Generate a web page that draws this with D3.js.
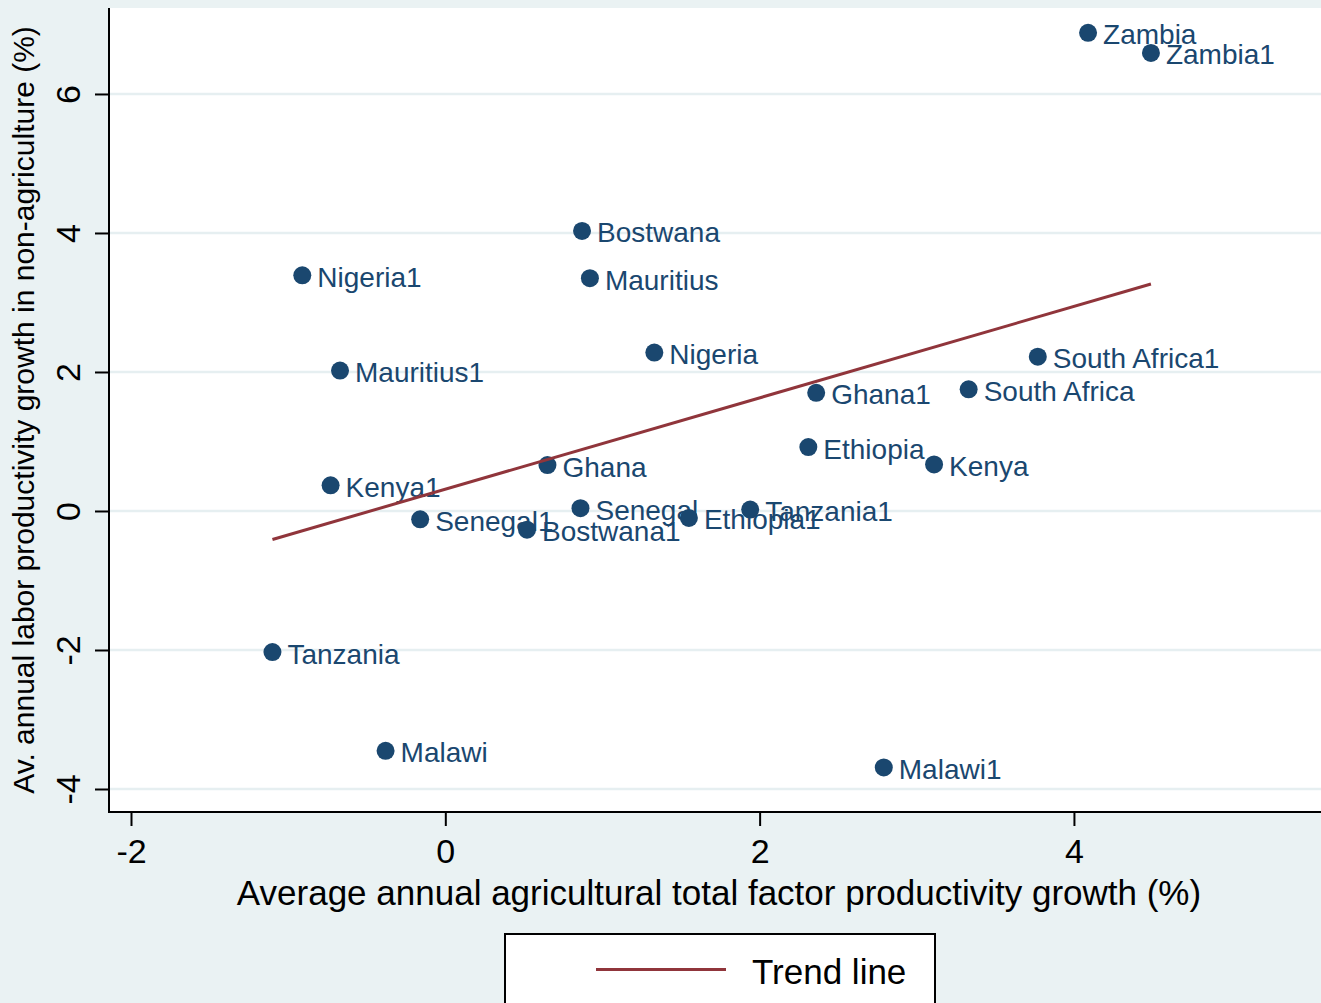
<!DOCTYPE html>
<html>
<head>
<meta charset="utf-8">
<script src="https://cdn.jsdelivr.net/npm/d3@7/dist/d3.min.js"></script>
<style>
  html, body { margin: 0; padding: 0; background: #eaf2f3; }
  svg { display: block; }
  text { font-family: "Liberation Sans", Arial, Helvetica, sans-serif; }
</style>
</head>
<body>
<svg id="chart" width="1321" height="1003"></svg>
<script>
// Country-period observations: agricultural TFP growth vs non-agricultural labour productivity growth
const countries = [
  "Zambia", "Zambia1", "Bostwana", "Mauritius", "Nigeria1", "Mauritius1",
  "Nigeria", "South Africa1", "South Africa", "Ghana1", "Ethiopia", "Kenya",
  "Ghana", "Kenya1", "Senegal", "Tanzania1", "Ethiopia1", "Senegal1",
  "Bostwana1", "Tanzania", "Malawi", "Malawi1"
];
const agTfpGrowth = [
  4.09, 4.49, 0.87, 0.92, -0.91, -0.67,
  1.33, 3.77, 3.33, 2.36, 2.31, 3.11,
  0.65, -0.73, 0.86, 1.94, 1.55, -0.16,
  0.52, -1.10, -0.38, 2.79
];
const nonAgLabGrowth = [
  6.88, 6.59, 4.03, 3.35, 3.39, 2.02,
  2.28, 2.22, 1.75, 1.70, 0.92, 0.67,
  0.66, 0.37, 0.04, 0.02, -0.10, -0.12,
  -0.27, -2.03, -3.45, -3.69
];
const xTicks = [-2, 0, 2, 4];
const yTicks = [-4, -2, 0, 2, 4, 6];
const xTitle = "Average annual agricultural total factor productivity growth (%)";
const yTitle = "Av. annual labor productivity growth in non-agriculture (%)";
const legendLabel = "Trend line";

const data = countries.map((c, i) => ({ name: c, x: agTfpGrowth[i], y: nonAgLabGrowth[i] }));

// Ordinary least squares fit for the trend line
const mx = d3.mean(data, d => d.x), my = d3.mean(data, d => d.y);
const sxy = d3.sum(data, d => (d.x - mx) * (d.y - my));
const sxx = d3.sum(data, d => (d.x - mx) ** 2);
const slope = sxy / sxx, intercept = my - slope * mx;
const [xMin, xMax] = d3.extent(data, d => d.x);
const fit = [xMin, xMax].map(v => ({ x: v, y: intercept + slope * v }));

const plot = { left: 109, right: 1329, top: 8, bottom: 812 };
const navy = "#1a476f", maroon = "#90353b", bg = "#eaf2f3";

const x = d3.scaleLinear().domain([-2.14, 5.623]).range([plot.left, plot.right]);
const y = d3.scaleLinear().domain([-4.331, 7.237]).range([plot.bottom, plot.top]);

const svg = d3.select("#chart");
svg.append("rect").attr("width", 1321).attr("height", 1003).attr("fill", bg);

// plot region
svg.append("rect")
  .attr("x", plot.left).attr("y", plot.top)
  .attr("width", plot.right - plot.left).attr("height", plot.bottom - plot.top)
  .attr("fill", "#ffffff");

// horizontal gridlines
svg.append("g").selectAll("line").data(yTicks).join("line")
  .attr("x1", plot.left).attr("x2", plot.right)
  .attr("y1", d => y(d)).attr("y2", d => y(d))
  .attr("stroke", "#e6eff1").attr("stroke-width", 2.5);

// axes
const yAxis = svg.append("g")
  .attr("transform", `translate(${plot.left},0)`)
  .call(d3.axisLeft(y).tickValues(yTicks).tickSize(14).tickSizeOuter(0).tickFormat(d3.format("d")));
yAxis.select(".domain").remove();
yAxis.append("line").attr("x1", 0).attr("x2", 0).attr("y1", plot.top).attr("y2", plot.bottom + 1)
  .attr("stroke", "#000").attr("stroke-width", 2);
yAxis.selectAll(".tick line").attr("stroke", "#000").attr("stroke-width", 2);
yAxis.selectAll(".tick text")
  .attr("x", null).attr("dy", null)
  .attr("transform", "translate(-29,0) rotate(-90)")
  .attr("text-anchor", "middle")
  .attr("fill", "#000")
  .style("font-size", "34px")
  .text(d => d < 0 ? "-" + Math.abs(d) : d);

const xAxis = svg.append("g")
  .attr("transform", `translate(0,${plot.bottom})`)
  .call(d3.axisBottom(x).tickValues(xTicks).tickSize(14).tickSizeOuter(0));
xAxis.select(".domain").remove();
xAxis.append("line").attr("x1", plot.left - 1).attr("x2", plot.right).attr("y1", 0).attr("y2", 0)
  .attr("stroke", "#000").attr("stroke-width", 2);
xAxis.selectAll(".tick line").attr("stroke", "#000").attr("stroke-width", 2);
xAxis.selectAll(".tick text")
  .attr("y", 51).attr("dy", null)
  .attr("fill", "#000")
  .style("font-size", "34px")
  .text(d => d < 0 ? "-" + Math.abs(d) : d);
svg.selectAll(".tick text").attr("font-family", null);

// axis titles
svg.append("text")
  .attr("x", (plot.left + plot.right) / 2).attr("y", 905)
  .attr("text-anchor", "middle").attr("fill", "#000")
  .style("font-size", "35px").text(xTitle);
svg.append("text")
  .attr("transform", `translate(34,${(plot.top + plot.bottom) / 2}) rotate(-90)`)
  .attr("text-anchor", "middle").attr("fill", "#000")
  .style("font-size", "30px").text(yTitle);

// points and labels
const pts = svg.append("g");
pts.selectAll("circle").data(data).join("circle")
  .attr("cx", d => x(d.x)).attr("cy", d => y(d.y)).attr("r", 9)
  .attr("fill", navy);
pts.selectAll("text").data(data).join("text")
  .attr("x", d => x(d.x) + 15).attr("y", d => y(d.y) + 11.5)
  .attr("fill", navy).style("font-size", "28px")
  .text(d => d.name);

// trend line
svg.append("path")
  .datum(fit)
  .attr("d", d3.line().x(d => x(d.x)).y(d => y(d.y)))
  .attr("fill", "none").attr("stroke", maroon).attr("stroke-width", 3);

// legend
const lg = svg.append("g");
lg.append("rect").attr("x", 505).attr("y", 934).attr("width", 430).attr("height", 100)
  .attr("fill", "#fff").attr("stroke", "#000").attr("stroke-width", 2);
lg.append("line").attr("x1", 596).attr("x2", 726).attr("y1", 969.5).attr("y2", 969.5)
  .attr("stroke", maroon).attr("stroke-width", 3);
lg.append("text").attr("x", 752).attr("y", 983.5).attr("fill", "#000")
  .style("font-size", "35px").text(legendLabel);
</script>
</body>
</html>
